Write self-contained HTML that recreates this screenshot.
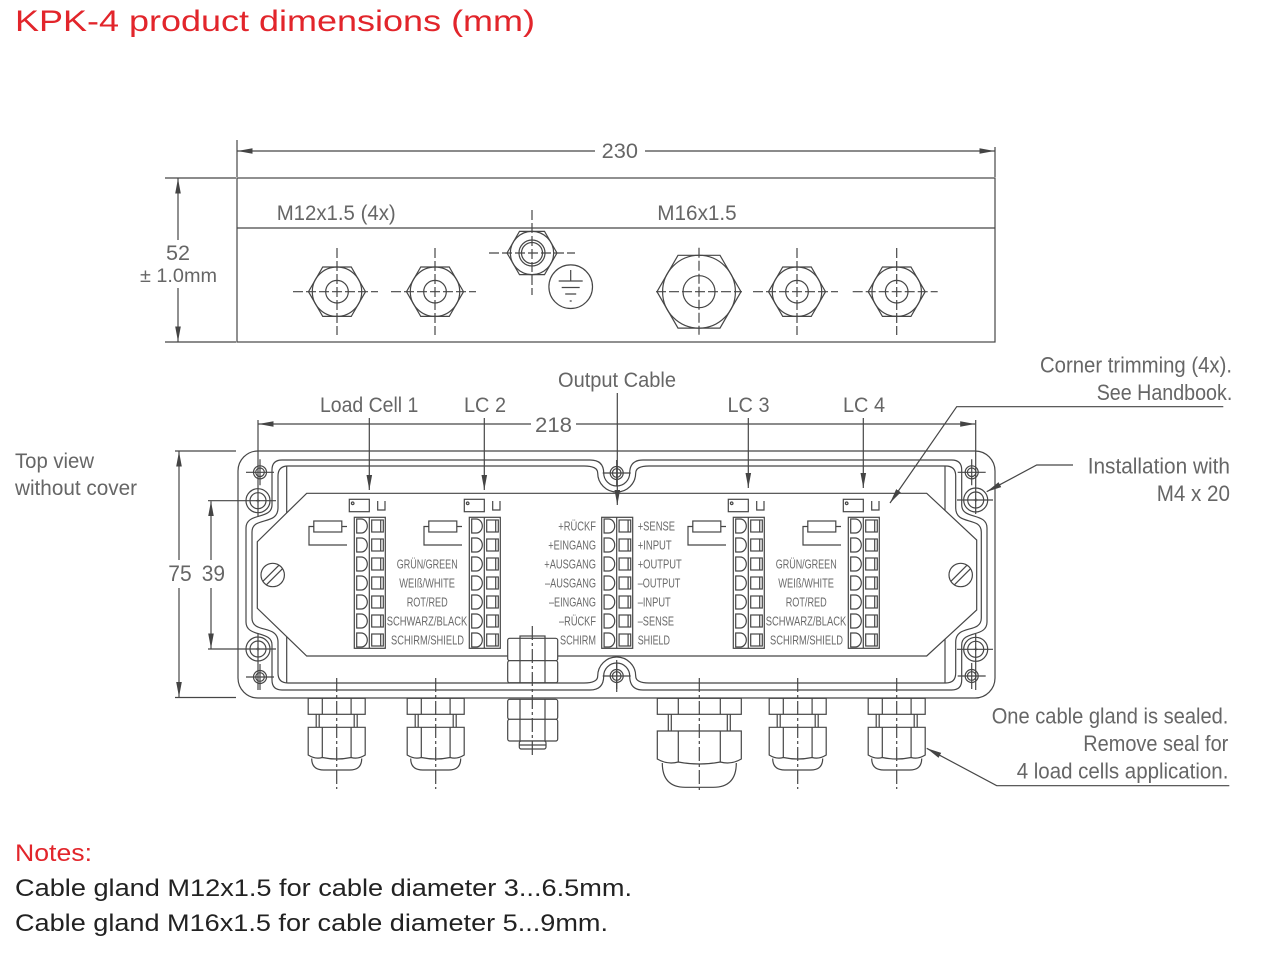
<!DOCTYPE html>
<html><head><meta charset="utf-8">
<style>
html,body{margin:0;padding:0;background:#fff;width:1269px;height:953px;overflow:hidden}
svg{display:block}
text{font-family:"Liberation Sans",Arial,sans-serif}
</style></head>
<body>
<svg xmlns="http://www.w3.org/2000/svg" xmlns:xlink="http://www.w3.org/1999/xlink" width="1269" height="953" viewBox="0 0 1269 953">
<defs>
<marker id="a" viewBox="0 0 15 7" refX="15" refY="3.5" markerWidth="15" markerHeight="7" markerUnits="userSpaceOnUse" orient="auto"><path d="M0,0.7L15,3.5L0,6.3Z" fill="#444"/></marker>
<g id="n12"><polygon points="-28.5,0 -14.25,-24.7 14.25,-24.7 28.5,0 14.25,24.7 -14.25,24.7"/><circle r="24.7"/><circle r="11.3"/><path d="M-44,0H41M0,-43.7V43.3" stroke-dasharray="10,3"/></g>
<g id="tb">
<rect x="0" y="517.3" width="31" height="131"/>
<line x1="15" y1="517.3" x2="15" y2="648.3"/>
<path d="M2.4,519H7A6,7 0 0 1 7,533H2.4Z"/><rect x="17.4" y="520" width="11.6" height="12"/><line x1="26.4" y1="520" x2="26.4" y2="532"/>
<path d="M2.4,538H7A6,7 0 0 1 7,552H2.4Z"/><rect x="17.4" y="539" width="11.6" height="12"/><line x1="26.4" y1="539" x2="26.4" y2="551"/>
<path d="M2.4,557H7A6,7 0 0 1 7,571H2.4Z"/><rect x="17.4" y="558" width="11.6" height="12"/><line x1="26.4" y1="558" x2="26.4" y2="570"/>
<path d="M2.4,576H7A6,7 0 0 1 7,590H2.4Z"/><rect x="17.4" y="577" width="11.6" height="12"/><line x1="26.4" y1="577" x2="26.4" y2="589"/>
<path d="M2.4,595H7A6,7 0 0 1 7,609H2.4Z"/><rect x="17.4" y="596" width="11.6" height="12"/><line x1="26.4" y1="596" x2="26.4" y2="608"/>
<path d="M2.4,614H7A6,7 0 0 1 7,628H2.4Z"/><rect x="17.4" y="615" width="11.6" height="12"/><line x1="26.4" y1="615" x2="26.4" y2="627"/>
<path d="M2.4,633H7A6,7 0 0 1 7,647H2.4Z"/><rect x="17.4" y="634" width="11.6" height="12"/><line x1="26.4" y1="634" x2="26.4" y2="646"/>
</g>
<g id="led"><rect x="-5" y="499.3" width="20" height="12.4"/><circle cx="-1.6" cy="503.3" r="1.3"/><path d="M23.4,501V510H30.7V501"/></g>
<g id="res"><rect x="-40.5" y="521" width="28" height="11"/><path d="M-12.5,526.5H-7.3M-40.5,526.5H-45.3V545H-7.3"/></g>
<g id="bh"><circle r="12"/><circle r="8"/><path d="M-2,0H2M0,-2V2"/></g>
<g id="sh"><circle r="6.5"/><circle r="4.3"/><path d="M-14,0H14M0,-13V13"/></g>
<g id="sc"><circle r="11.7"/><path transform="rotate(-45)" d="M-11.4,-2.5H11.4M-11.4,2.5H11.4"/></g>
<g id="g12">
<rect x="-28.5" y="698.3" width="57" height="16"/>
<path d="M-14.4,698.3V714.3M14.4,698.3V714.3"/>
<path d="M-20.5,714.3V727.3M-17.5,714.3V727.3M17.5,714.3V727.3M20.5,714.3V727.3"/>
<path d="M-28.5,727.3H28.5V755Q21.5,759.5 14.4,757.5Q0,760.5 -14.4,757.5Q-21.5,759.5 -28.5,755Z"/>
<path d="M-14.4,727.3V757.5M14.4,727.3V757.5"/>
<path d="M-25,758.5Q-25,770 -13,770H13Q25,770 25,758.5"/>
<path d="M0,678V789" stroke-dasharray="14,3,3,3"/>
</g>
<g id="g16">
<rect x="-42" y="698.3" width="84" height="16"/>
<path d="M-21,698.3V714.3M21,698.3V714.3"/>
<path d="M-31,714.3V731M-28,714.3V731M28,714.3V731M31,714.3V731"/>
<path d="M-42,731H42V759Q32,765 21,762Q0,766 -21,762Q-32,765 -42,759Z"/>
<path d="M-21,731V762M21,731V762"/>
<path d="M-37,763Q-37,787.3 -14,787.3H14Q37,787.3 37,763"/>
<path d="M0,678V790" stroke-dasharray="14,3,3,3"/>
</g>
</defs>

<!-- Title -->
<text x="15" y="31" font-size="30" fill="#e2252b" textLength="520" lengthAdjust="spacingAndGlyphs">KPK-4 product dimensions (mm)</text>

<!-- TOP VIEW -->
<g fill="none" stroke="#464646" stroke-width="1.2">
<rect x="237" y="178" width="758" height="164"/>
<line x1="237" y1="228" x2="995" y2="228"/>
<line x1="237" y1="140" x2="237" y2="177"/>
<line x1="995" y1="147" x2="995" y2="177"/>
<line x1="595" y1="151" x2="237.5" y2="151" marker-end="url(#a)"/>
<line x1="645" y1="151" x2="994.5" y2="151" marker-end="url(#a)"/>
<line x1="165" y1="178" x2="236" y2="178"/>
<line x1="165" y1="342" x2="236" y2="342"/>
<line x1="178" y1="240" x2="178" y2="178.5" marker-end="url(#a)"/>
<line x1="178" y1="288" x2="178" y2="341.5" marker-end="url(#a)"/>
<use href="#n12" x="337" y="291.7"/>
<use href="#n12" x="435" y="291.7"/>
<use href="#n12" x="797" y="291.7"/>
<use href="#n12" x="896.7" y="291.7"/>
<g transform="translate(699,291.7)">
<polygon points="-42,0 -21,-36.4 21,-36.4 42,0 21,36.4 -21,36.4"/><circle r="36.4"/><circle r="16"/>
<path d="M-43,0H43M0,-44V43" stroke-dasharray="10,3"/>
</g>
<g transform="translate(532,253)">
<polygon points="-25,0 -12.5,-21.65 12.5,-21.65 25,0 12.5,21.65 -12.5,21.65"/><circle r="21.65"/><circle r="13"/><circle r="10.5"/>
<path d="M-43,0H43M0,-43V42" stroke-dasharray="10,3"/>
</g>
<circle cx="570.7" cy="286.7" r="21.8"/>
<path d="M570.7,270V281M558.7,281H582.7M561.7,287.5H579.7M565.2,294H576.2M569.7,301H571.7"/>
</g>
<g fill="#666">
<text x="601.7" y="158" font-size="21" textLength="36.3" lengthAdjust="spacingAndGlyphs">230</text>
<text x="276.7" y="220" font-size="21" textLength="119" lengthAdjust="spacingAndGlyphs">M12x1.5 (4x)</text>
<text x="657.3" y="220" font-size="21" textLength="79.4" lengthAdjust="spacingAndGlyphs">M16x1.5</text>
<text x="166" y="260" font-size="21" textLength="24" lengthAdjust="spacingAndGlyphs">52</text>
<text x="140" y="282" font-size="19" textLength="77" lengthAdjust="spacingAndGlyphs">± 1.0mm</text>
</g>

<!-- BOTTOM VIEW enclosure -->
<g fill="none" stroke="#464646" stroke-width="1.2">
<rect x="238" y="451" width="757" height="247" rx="20"/>
<path d="M282,460H590Q603.7,460 603.7,473A13,13 0 0 0 629.7,473Q629.7,460 643,460H951.7Q961.7,460 961.7,470V505C961.7,520 987,512 987,528V622C987,638 961.7,630 961.7,645V680Q961.7,690 951.7,690H643Q629.7,690 629.7,676A13,13 0 0 0 603.7,676Q603.7,690 590,690H282Q272,690 272,680V645C272,630 246,638 246,622V528C246,512 272,520 272,505V470Q272,460 282,460Z"/>
<path d="M288,466H584Q597.7,466 597.7,473A19,19 0 0 0 635.7,473Q635.7,466 649,466H945.7Q955.7,466 955.7,476V508C955.7,526 981.3,516 981.3,532V618C981.3,634 955.7,624 955.7,642V673Q955.7,683 945.7,683H649Q635.7,683 635.7,676A19,19 0 0 0 597.7,676Q597.7,683 584,683H288Q278,683 278,673V642C278,624 252,634 252,618V532C252,516 278,526 278,508V476Q278,466 288,466Z"/>
<line x1="286.7" y1="466" x2="286.7" y2="683"/>
<line x1="945" y1="466" x2="945" y2="683"/>
<polygon fill="#fff" points="306.7,493.3 926.7,493.3 976.7,540 976.7,610 926.7,656 306.7,656 257.3,608.3 257.3,541.7"/>
<use href="#sc" x="272.7" y="575"/>
<use href="#sc" x="960.7" y="575"/>
<!-- holes -->
<use href="#bh" x="258" y="500.7"/>
<use href="#bh" x="258" y="649"/>
<use href="#bh" x="975.7" y="500"/>
<use href="#bh" x="975.7" y="649.3"/>
<use href="#sh" x="260" y="472.3"/>
<use href="#sh" x="260" y="677"/>
<use href="#sh" x="971.7" y="472.3"/>
<use href="#sh" x="971.7" y="676"/>
<use href="#sh" x="616.7" y="473"/>
<use href="#sh" x="616.7" y="676"/>
<path d="M208,500.7H276M208,649H276M258,420V517M258,633V690M957,500H993M957,649.3H993M975.7,420V514M975.7,634V690M616.7,660V692"/>
<!-- dims left -->
<line x1="175" y1="451" x2="236" y2="451"/>
<line x1="175" y1="697.5" x2="236" y2="697.5"/>
<line x1="179" y1="560" x2="179" y2="451.5" marker-end="url(#a)"/>
<line x1="179" y1="588" x2="179" y2="697" marker-end="url(#a)"/>
<line x1="211" y1="560" x2="211" y2="501.2" marker-end="url(#a)"/>
<line x1="211" y1="588" x2="211" y2="648.5" marker-end="url(#a)"/>
<!-- dim 218 -->
<line x1="531" y1="424" x2="258.5" y2="424" marker-end="url(#a)"/>
<line x1="576" y1="424" x2="975.2" y2="424" marker-end="url(#a)"/>
<!-- terminal blocks -->
<use href="#tb" x="354.3"/>
<use href="#tb" x="469.3"/>
<use href="#tb" x="601.7"/>
<use href="#tb" x="733.3"/>
<use href="#tb" x="848.3"/>
<use href="#led" x="354.3"/>
<use href="#led" x="469.3"/>
<use href="#led" x="733.3"/>
<use href="#led" x="848.3"/>
<use href="#res" x="354.3"/>
<use href="#res" x="469.3"/>
<use href="#res" x="733.3"/>
<use href="#res" x="848.3"/>
<!-- ground stud inside -->
<g fill="#fff">
<rect x="520" y="636" width="25" height="2.5"/>
<rect x="507.7" y="638.3" width="50" height="22.4" rx="2"/>
<rect x="507.7" y="660.7" width="50" height="22" rx="2"/>
</g>
<path d="M520,638.3V682.7M545,638.3V682.7"/>
<!-- ground stud outside -->
<g fill="#fff">
<rect x="507.7" y="699.3" width="50" height="20" rx="2"/>
<rect x="507.7" y="719.3" width="50" height="21.7" rx="2"/>
<rect x="519.3" y="741" width="26.7" height="8" rx="2"/>
</g>
<path d="M520,699.3V741M545,699.3V741M519.3,745H546"/>
<path d="M532.3,626V755" stroke-dasharray="14,3,3,3"/>
<!-- glands -->
<use href="#g12" x="336.7"/>
<use href="#g12" x="435.7"/>
<use href="#g16" x="699.3"/>
<use href="#g12" x="797.7"/>
<use href="#g12" x="896.7"/>
<!-- label arrows -->
<line x1="369.3" y1="418" x2="369.3" y2="490" marker-end="url(#a)"/>
<line x1="484.3" y1="418" x2="484.3" y2="490" marker-end="url(#a)"/>
<line x1="617.3" y1="393" x2="617.3" y2="505" marker-end="url(#a)"/>
<line x1="748.3" y1="418" x2="748.3" y2="488" marker-end="url(#a)"/>
<line x1="863.3" y1="418" x2="863.3" y2="488" marker-end="url(#a)"/>
<!-- leaders -->
<path d="M1223.3,406.7H956.7L890,503" marker-end="url(#a)"/>
<path d="M1073,465H1036.7L986.7,491.7" marker-end="url(#a)"/>
<path d="M1229.3,785.7H996.7L926.7,748.3" marker-end="url(#a)"/>
</g>

<!-- gray labels -->
<g fill="#666">
<text x="535" y="432" font-size="21" textLength="37" lengthAdjust="spacingAndGlyphs">218</text>
<text x="168.3" y="581" font-size="22" textLength="23.4" lengthAdjust="spacingAndGlyphs">75</text>
<text x="201.7" y="581" font-size="22" textLength="23.3" lengthAdjust="spacingAndGlyphs">39</text>
<text x="15" y="468" font-size="21" textLength="79" lengthAdjust="spacingAndGlyphs">Top view</text>
<text x="15" y="495" font-size="21" textLength="122" lengthAdjust="spacingAndGlyphs">without cover</text>
<text x="320" y="412" font-size="21" textLength="98.3" lengthAdjust="spacingAndGlyphs">Load Cell 1</text>
<text x="464" y="412" font-size="21" textLength="42" lengthAdjust="spacingAndGlyphs">LC 2</text>
<text x="558" y="387" font-size="21" textLength="118" lengthAdjust="spacingAndGlyphs">Output Cable</text>
<text x="727.5" y="412" font-size="21" textLength="42" lengthAdjust="spacingAndGlyphs">LC 3</text>
<text x="843" y="412" font-size="21" textLength="42" lengthAdjust="spacingAndGlyphs">LC 4</text>
<text x="1040" y="372.3" font-size="22" textLength="192" lengthAdjust="spacingAndGlyphs">Corner trimming (4x).</text>
<text x="1096.7" y="400" font-size="22" textLength="135.6" lengthAdjust="spacingAndGlyphs">See Handbook.</text>
<text x="1087.7" y="473.3" font-size="22" textLength="142.3" lengthAdjust="spacingAndGlyphs">Installation with</text>
<text x="1156.7" y="501" font-size="22" textLength="73.3" lengthAdjust="spacingAndGlyphs">M4 x 20</text>
<text x="991.7" y="723.3" font-size="22" textLength="236.7" lengthAdjust="spacingAndGlyphs">One cable gland is sealed.</text>
<text x="1083.3" y="751" font-size="22" textLength="145" lengthAdjust="spacingAndGlyphs">Remove seal for</text>
<text x="1016.7" y="778.3" font-size="22" textLength="211.7" lengthAdjust="spacingAndGlyphs">4 load cells application.</text>
</g>

<!-- small terminal labels -->
<g fill="#6a6a6a" font-size="12.5">
<text x="396.7" y="568.5" textLength="61" lengthAdjust="spacingAndGlyphs">GRÜN/GREEN</text>
<text x="399.3" y="587.5" textLength="55.7" lengthAdjust="spacingAndGlyphs">WEIß/WHITE</text>
<text x="406.7" y="606.5" textLength="41" lengthAdjust="spacingAndGlyphs">ROT/RED</text>
<text x="386.7" y="625.5" textLength="80.6" lengthAdjust="spacingAndGlyphs">SCHWARZ/BLACK</text>
<text x="391" y="644.5" textLength="73" lengthAdjust="spacingAndGlyphs">SCHIRM/SHIELD</text>
<text x="775.7" y="568.5" textLength="61" lengthAdjust="spacingAndGlyphs">GRÜN/GREEN</text>
<text x="778.3" y="587.5" textLength="55.7" lengthAdjust="spacingAndGlyphs">WEIß/WHITE</text>
<text x="785.7" y="606.5" textLength="41" lengthAdjust="spacingAndGlyphs">ROT/RED</text>
<text x="765.7" y="625.5" textLength="80.6" lengthAdjust="spacingAndGlyphs">SCHWARZ/BLACK</text>
<text x="770" y="644.5" textLength="73" lengthAdjust="spacingAndGlyphs">SCHIRM/SHIELD</text>
<text x="558.3" y="530.5" textLength="37.7" lengthAdjust="spacingAndGlyphs">+RÜCKF</text>
<text x="548.3" y="549.5" textLength="47.7" lengthAdjust="spacingAndGlyphs">+EINGANG</text>
<text x="544.3" y="568.5" textLength="51.7" lengthAdjust="spacingAndGlyphs">+AUSGANG</text>
<text x="545" y="587.5" textLength="51" lengthAdjust="spacingAndGlyphs">–AUSGANG</text>
<text x="549" y="606.5" textLength="47" lengthAdjust="spacingAndGlyphs">–EINGANG</text>
<text x="559" y="625.5" textLength="37" lengthAdjust="spacingAndGlyphs">–RÜCKF</text>
<text x="560" y="644.5" textLength="36" lengthAdjust="spacingAndGlyphs">SCHIRM</text>
<text x="637.7" y="530.5" textLength="37.3" lengthAdjust="spacingAndGlyphs">+SENSE</text>
<text x="637.7" y="549.5" textLength="34" lengthAdjust="spacingAndGlyphs">+INPUT</text>
<text x="637.7" y="568.5" textLength="44" lengthAdjust="spacingAndGlyphs">+OUTPUT</text>
<text x="637.7" y="587.5" textLength="42.7" lengthAdjust="spacingAndGlyphs">–OUTPUT</text>
<text x="637.7" y="606.5" textLength="33" lengthAdjust="spacingAndGlyphs">–INPUT</text>
<text x="637.7" y="625.5" textLength="36.3" lengthAdjust="spacingAndGlyphs">–SENSE</text>
<text x="637.7" y="644.5" textLength="32.3" lengthAdjust="spacingAndGlyphs">SHIELD</text>
</g>

<!-- Notes -->
<text x="15" y="861" font-size="24" fill="#e2252b" textLength="77" lengthAdjust="spacingAndGlyphs">Notes:</text>
<text x="15" y="896" font-size="24" fill="#222" textLength="617" lengthAdjust="spacingAndGlyphs">Cable gland M12x1.5 for cable diameter 3...6.5mm.</text>
<text x="15" y="931" font-size="24" fill="#222" textLength="593" lengthAdjust="spacingAndGlyphs">Cable gland M16x1.5 for cable diameter 5...9mm.</text>
</svg>
</body></html>
